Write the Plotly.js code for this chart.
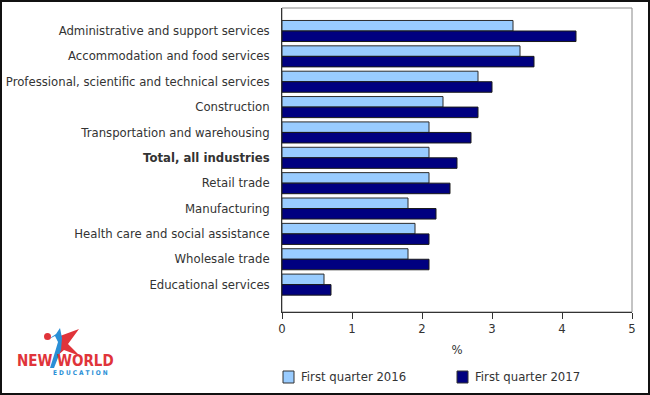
<!DOCTYPE html>
<html>
<head>
<meta charset="utf-8">
<script src="https://cdn.plot.ly/plotly-3.0.1.min.js"></script>
<style>html,body{margin:0;padding:0;background:#fff;}#chart{width:650px;height:395px;}</style>
</head>
<body>
<div id="chart"></div>
<script>
const industries = [
  "Administrative and support services",
  "Accommodation and food services",
  "Professional, scientific and technical services",
  "Construction",
  "Transportation and warehousing",
  "Total, all industries",
  "Retail trade",
  "Manufacturing",
  "Health care and social assistance",
  "Wholesale trade",
  "Educational services"
];
const tickLabels = [
  "Administrative and support services",
  "Accommodation and food services",
  "Professional, scientific and technical services",
  "Construction",
  "Transportation and warehousing",
  "<b>Total, all industries</b>",
  "Retail trade",
  "Manufacturing",
  "Health care and social assistance",
  "Wholesale trade",
  "Educational services"
];
const q1_2016 = [3.3, 3.4, 2.8, 2.3, 2.1, 2.1, 2.1, 1.8, 1.9, 1.8, 0.6];
const q1_2017 = [4.2, 3.6, 3.0, 2.8, 2.7, 2.5, 2.4, 2.2, 2.1, 2.1, 0.7];
const seriesNames = ["First quarter 2016", "First quarter 2017"];
const seriesColors = ['#99ccff', '#000080'];
const xTicks = [0, 1, 2, 3, 4, 5];

// plot area geometry (pixels)
const W = 650, H = 395, L = 282, R = 18, T = 8, B = 83;
const PW = W - L - R, PH = H - T - B;
const px = x => (x - L) / PW;
const py = y => (H - B - y) / PH;

const traces = [
  {type: 'bar', orientation: 'h', name: seriesNames[0], y: industries, x: q1_2016,
   marker: {color: seriesColors[0], line: {color: '#2b2b2b', width: 1}}},
  {type: 'bar', orientation: 'h', name: seriesNames[1], y: industries, x: q1_2017,
   marker: {color: seriesColors[1], line: {color: '#1a1a1a', width: 1}}}
];

function pathFromPx(pts) {
  return 'M' + pts.map(p => px(p[0]) + ',' + py(p[1])).join(' L') + ' Z';
}

// manual legend (swatch left edges and text left edges, pixels)
const legendItems = [{sx: 283, tx: 299}, {sx: 457, tx: 473}];
const legendY = 377;
const legendShapes = legendItems.map((it, i) => ({
  type: 'rect', xref: 'paper', yref: 'paper',
  x0: px(it.sx), x1: px(it.sx + 11), y0: py(legendY - 6), y1: py(legendY + 6),
  fillcolor: seriesColors[i], line: {color: '#333', width: 1}
}));
const legendAnns = legendItems.map((it, i) => ({
  text: seriesNames[i], xref: 'paper', yref: 'paper', x: px(it.tx), y: py(legendY),
  xanchor: 'left', yanchor: 'middle', showarrow: false,
  font: {size: 11.7, color: '#333'}
}));

const layout = {
  width: W, height: H,
  margin: {l: L, r: R, t: T, b: B, pad: 0, autoexpand: false},
  paper_bgcolor: '#fff', plot_bgcolor: '#fff',
  font: {family: 'DejaVu Sans, Verdana, sans-serif', size: 11.7, color: '#333'},
  barmode: 'group', bargap: 0.17, bargroupgap: 0,
  showlegend: false,
  xaxis: {range: [0, 5], tickvals: xTicks, ticks: 'outside', ticklen: 6, tickcolor: '#333',
    showgrid: false, zeroline: false, showline: true, linecolor: '#333', linewidth: 1,
    tickfont: {size: 11.7, color: '#333'}, automargin: false,
    title: {text: '%', font: {size: 11.7, color: '#333'}, standoff: 10}, fixedrange: true},
  yaxis: {type: 'category', range: [11.08, -0.907], tickmode: 'array', automargin: false,
    tickvals: industries, ticktext: tickLabels, ticks: 'outside', ticklen: 9,
    tickcolor: 'rgba(0,0,0,0)', showgrid: false, zeroline: false, showline: true,
    linecolor: '#333', linewidth: 1, tickfont: {size: 11.7, color: '#333'}},
  shapes: [
    {type: 'rect', xref: 'paper', yref: 'paper', x0: 0, x1: 1, y0: 0, y1: 1,
     line: {color: '#888', width: 1}, layer: 'below'},
    {type: 'rect', xref: 'paper', yref: 'paper', x0: px(1), x1: px(649), y0: py(1), y1: py(394),
     line: {color: '#111', width: 2}},
    // logo star (red)
    {type: 'path', xref: 'paper', yref: 'paper', fillcolor: '#e0343a', line: {width: 0},
     path: pathFromPx([[60,336],[79,329],[68,344],[80,356],[64,350],[57,356],[58,344]])},
    // logo figure (blue)
    {type: 'path', xref: 'paper', yref: 'paper', fillcolor: '#2a8fd6', line: {width: 0},
     path: pathFromPx([[47,340],[55,336],[58,342],[55,352],[50,368],[54,368],[61,350],[62,338],[60,328],[56,334]])},
    {type: 'circle', xref: 'paper', yref: 'paper', fillcolor: '#e0343a', line: {width: 0},
     x0: px(44), x1: px(51), y0: py(333), y1: py(340)}
  ].concat(legendShapes),
  annotations: [
    {text: '<b>NEW WORLD</b>', xref: 'paper', yref: 'paper', x: px(65), y: py(361),
     xanchor: 'center', yanchor: 'middle', showarrow: false,
     font: {family: 'Liberation Sans Narrow, DejaVu Sans Condensed, sans-serif', size: 15, color: '#e0343a'}},
    {text: '<b>E D U C A T I O N</b>', xref: 'paper', yref: 'paper', x: px(80), y: py(373),
     xanchor: 'center', yanchor: 'middle', showarrow: false,
     font: {family: 'DejaVu Sans Condensed, sans-serif', size: 6.5, color: '#2a8fd6'}}
  ].concat(legendAnns)
};

Plotly.newPlot('chart', traces, layout, {displayModeBar: false, staticPlot: true});
</script>
</body>
</html>
